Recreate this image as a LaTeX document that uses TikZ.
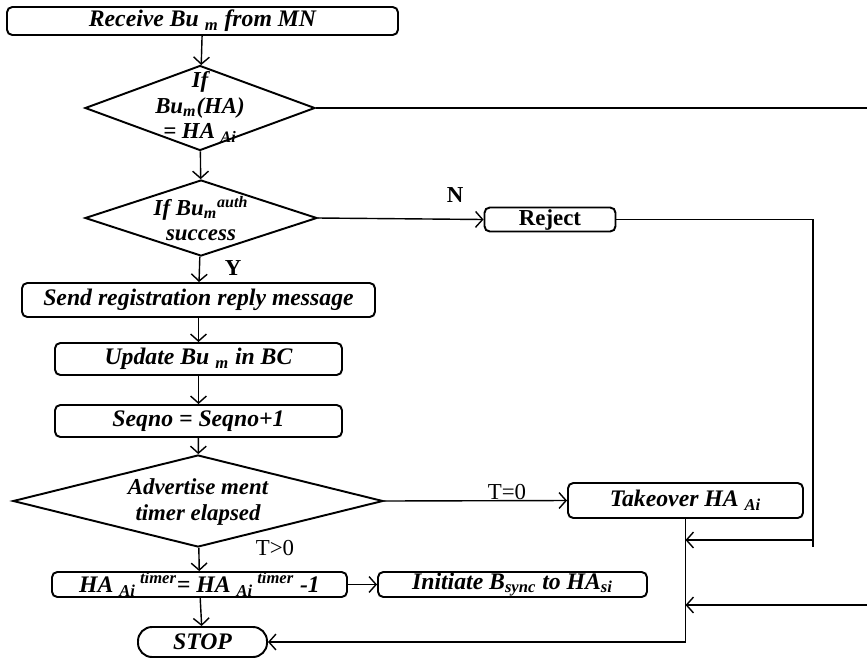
\documentclass[tikz,border=0pt]{standalone}
\usepackage{fontspec}
\setmainfont{Liberation Serif}
\usepackage{tikz}
\usetikzlibrary{
    arrows,
    arrows.meta,
    shapes,
    shapes.geometric
}
\newcommand{\boxfont}{\fontsize{13.5}{14}\selectfont\bfseries\itshape}
\newcommand{\decifont}{\fontsize{13}{14.5}\selectfont\bfseries\itshape}
\tikzset{
    procbox/.style={draw, line width=1.1pt, rectangle, rounded corners=3pt, align=center, inner sep=0cm, font=\boxfont},
    decision/.style={draw, line width=1.1pt, diamond, inner sep=0cm},
    decitext/.style={align=center, inner sep=0cm, font=\decifont},
    flow/.style={-{Straight Barb[length=4pt, width=9pt]}, thick},
    plainline/.style={thick}
}

\begin{document}
\begin{tikzpicture}
            \useasboundingbox (0, 0) rectangle (17.34, -13.18);

            \node[procbox, minimum width=7.82cm, minimum height=0.56cm] (recv) at (4.05, -0.42) {Receive Bu \textsubscript{m} from MN};

            \node[decision, minimum width=4.6cm, minimum height=1.7cm] (cond1) at (4.0, -2.16) {};
            \node[decitext] (cond1txt) at (4.0, -2.14) {If\\Bu\textsubscript{m}(HA)\\= HA \textsubscript{Ai}};

            \node[decision, minimum width=4.64cm, minimum height=1.52cm] (cond2) at (4.02, -4.36) {};
            \node[decitext] (cond2txt) at (4.02, -4.38) {If Bu\textsubscript{m}\textsuperscript{auth}\\success};

            \node[procbox, font=\fontsize{13}{13}\selectfont\bfseries, minimum width=2.62cm, minimum height=0.48cm] (reject) at (11.0, -4.39) {Reject};

            \node[procbox, minimum width=7.06cm, minimum height=0.68cm] (send) at (3.97, -6.0) {Send registration reply message};
            \node[procbox, minimum width=5.74cm, minimum height=0.64cm] (update) at (3.97, -7.18) {Update Bu \textsubscript{m} in BC};
            \node[procbox, minimum width=5.74cm, minimum height=0.64cm] (seqno) at (3.97, -8.42) {Seqno = Seqno+1};

            \node[decision, minimum width=7.4cm, minimum height=1.84cm] (cond3) at (3.96, -10.02) {};
            \node[decitext] (cond3txt) at (3.96, -10.04) {Advertise ment\\timer elapsed};

            \node[procbox, minimum width=4.7cm, minimum height=0.7cm] (takeover) at (13.71, -10.01) {Takeover HA \textsubscript{Ai}};

            \node[procbox, minimum width=5.9cm, minimum height=0.5cm] (hatimer) at (3.99, -11.69) {HA \textsubscript{Ai}\textsuperscript{ timer}= HA \textsubscript{Ai}\textsuperscript{ timer} -1};
            \node[procbox, minimum width=5.38cm, minimum height=0.5cm] (initiate) at (10.25, -11.69) {Initiate B\textsubscript{sync} to HA\textsubscript{si}};

            \node[procbox, rounded corners=8pt, minimum width=2.58cm, minimum height=0.6cm] (stop) at (4.05, -12.84) {STOP};

            \coordinate (edgeA) at (17.34, -2.16);
            \coordinate (edgeB) at (17.34, -12.1);
            \coordinate (rejturn) at (16.26, -10.8);
            \coordinate (joinA) at (13.71, -10.8);
            \coordinate (joinB) at (13.71, -12.1);

            \draw[flow] (recv)--(cond1);
            \draw[plainline] (cond1.east)--(edgeA);
            \draw[flow] (cond1)--(cond2);

            \draw[flow] (cond2.east)--(reject.west);
            \draw[flow] (cond2)--(send);
            \draw[flow] (send)--(update);
            \draw[flow] (update)--(seqno);
            \draw[flow] (seqno)--(cond3);

            \draw[flow] (cond3.east)--(takeover.west);
            \draw[flow] (cond3)--(hatimer);
            \draw[flow] (hatimer)--(initiate);
            \draw[flow] (hatimer)--(stop);

            \draw[plainline] (reject.east) -| (rejturn) -- ++(0, -0.14);
            \draw[flow] (rejturn)--(joinA);
            \draw[flow] (edgeB)--(joinB);
            \draw[flow] (takeover.south) |- (stop.east);

            \node[font=\fontsize{13}{13}\selectfont\bfseries] (nlabel) at (9.1, -3.9) {N};
            \node[font=\fontsize{13}{13}\selectfont\bfseries] (ylabel) at (4.66, -5.36) {Y};
            \node[font=\fontsize{13}{13}\selectfont] (tzero) at (10.14, -9.84) {T=0};
            \node[font=\fontsize{13}{13}\selectfont] (tpos) at (5.5, -10.96) {T>0};
        \end{tikzpicture}
\end{document}
